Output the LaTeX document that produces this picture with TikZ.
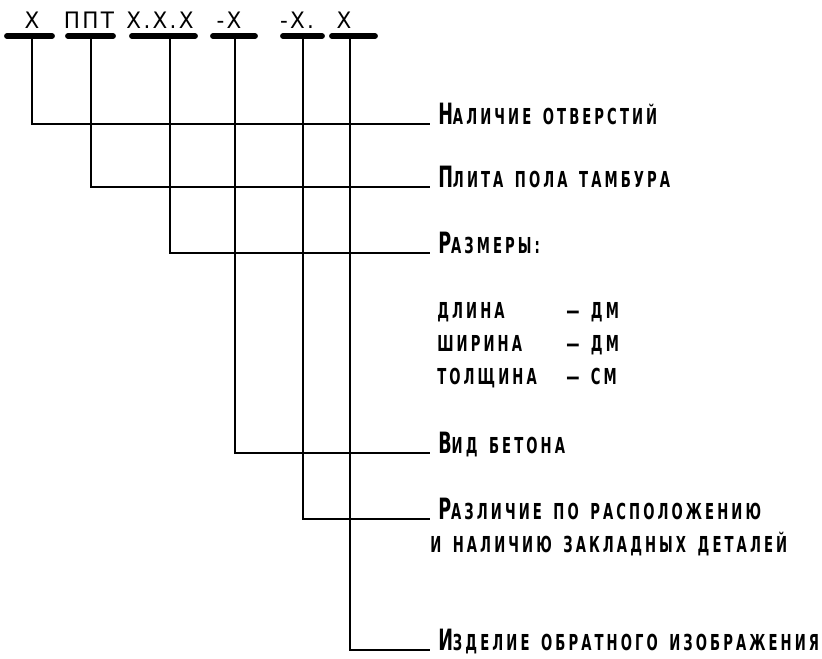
\documentclass[tikz,border=0pt]{standalone}
\usepackage{fontspec}
\setmainfont[FakeStretch=0.6,LetterSpace=14,WordSpace=1.5]{DejaVu Sans}
\newfontfamily\codefont[FakeStretch=0.95,LetterSpace=10]{DejaVu Sans}
\usepackage{tikz}
\newcommand{\firstcap}[1]{{\fontsize{22}{24}\selectfont #1}}
\tikzstyle{code} = [anchor=base, inner sep=0pt, font=\codefont\fontsize{17}{19}\selectfont]
\tikzstyle{bar} = [line width=4.4pt, line cap=round]
\tikzstyle{lead} = [line width=2.1pt]
\tikzstyle{expl} = [anchor=base west, inner sep=0pt, font=\bfseries\fontsize{16.5}{18}\selectfont]

\begin{document}
\begin{tikzpicture}[x=0.75pt,y=-0.75pt]
        \useasboundingbox (0,0) rectangle (822,658);
        % marking
        \node[code](c1) at (32,28){Х};
        \node[code](c2) at (89,28){ППТ};
        \node[code](c3) at (160,28){Х.Х.Х};
        \node[code](c4) at (229,28){-Х};
        \node[code](c5) at (297,28){-Х.};
        \node[code](c6) at (344,28){Х};
        \draw[bar](7,36)--(52,36);
        \draw[bar](68,36)--(113,36);
        \draw[bar](132,36)--(195,36);
        \draw[bar](213,36)--(255,36);
        \draw[bar](283,36)--(322,36);
        \draw[bar](332,36)--(375,36);
        \coordinate(t1) at (32,36);
        \coordinate(t2) at (91,36);
        \coordinate(t3) at (170,36);
        \coordinate(t4) at (235,36);
        \coordinate(t5) at (303,36);
        \coordinate(t6) at (350,36);
        % explanations
        \node[expl](e1) at (438,124){\firstcap{Н}АЛИЧИЕ ОТВЕРСТИЙ};
        \node[expl](e2) at (438,187){\firstcap{П}ЛИТА ПОЛА ТАМБУРА};
        \node[expl](e3) at (438,253){\firstcap{Р}АЗМЕРЫ:};
        \node[expl](d1) at (437,318){ДЛИНА};
        \node[expl](d2) at (437,351){ШИРИНА};
        \node[expl](d3) at (437,384){ТОЛЩИНА};
        \node[expl](m1) at (566,318){— ДМ};
        \node[expl](m2) at (566,351){— ДМ};
        \node[expl](m3) at (566,384){— СМ};
        \node[expl](e4) at (438,453){\firstcap{В}ИД БЕТОНА};
        \node[expl](e5) at (438,519){\firstcap{Р}АЗЛИЧИЕ ПО РАСПОЛОЖЕНИЮ};
        \node[expl](e5b) at (430,552){И НАЛИЧИЮ ЗАКЛАДНЫХ ДЕТАЛЕЙ};
        \node[expl](e6) at (438,650){\firstcap{И}ЗДЕЛИЕ ОБРАТНОГО ИЗОБРАЖЕНИЯ};
        % leaders
        \draw[lead](t1)|-([xshift=-6pt]e1.base west);
        \draw[lead](t2)|-([xshift=-6pt]e2.base west);
        \draw[lead](t3)|-([xshift=-6pt]e3.base west);
        \draw[lead](t4)|-([xshift=-6pt]e4.base west);
        \draw[lead](t5)|-([xshift=-6pt]e5.base west);
        \draw[lead](t6)|-([xshift=-6pt]e6.base west);
      \end{tikzpicture}
\end{document}
